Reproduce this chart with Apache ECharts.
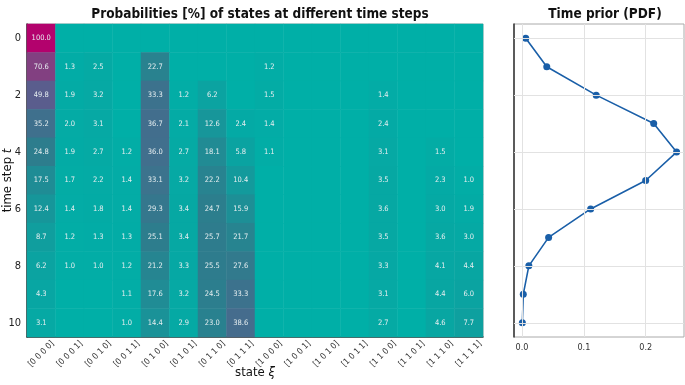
<!DOCTYPE html>
<html><head><meta charset="utf-8">
<script src="https://cdn.jsdelivr.net/npm/echarts@6/dist/echarts.min.js"></script>
<style>html,body{margin:0;padding:0;background:#fff}#c{width:685px;height:385px}</style>
</head><body><div id="c"></div>
<script>
const states = ['[0 0 0 0]','[0 0 0 1]','[0 0 1 0]','[0 0 1 1]','[0 1 0 0]','[0 1 0 1]','[0 1 1 0]','[0 1 1 1]',
                '[1 0 0 0]','[1 0 0 1]','[1 0 1 0]','[1 0 1 1]','[1 1 0 0]','[1 1 0 1]','[1 1 1 0]','[1 1 1 1]'];
const timeSteps = ['0','1','2','3','4','5','6','7','8','9','10'];
// probability [%] per time step (row) and state (column); blank cells (<1) set to 0
const probRows = [
  [100.0,0,0,0,0,0,0,0,0,0,0,0,0,0,0,0],
  [70.6,1.3,2.5,0,22.7,0,0,0,1.2,0,0,0,0,0,0,0],
  [49.8,1.9,3.2,0,33.3,1.2,6.2,0,1.5,0,0,0,1.4,0,0,0],
  [35.2,2.0,3.1,0,36.7,2.1,12.6,2.4,1.4,0,0,0,2.4,0,0,0],
  [24.8,1.9,2.7,1.2,36.0,2.7,18.1,5.8,1.1,0,0,0,3.1,0,1.5,0],
  [17.5,1.7,2.2,1.4,33.1,3.2,22.2,10.4,0,0,0,0,3.5,0,2.3,1.0],
  [12.4,1.4,1.8,1.4,29.3,3.4,24.7,15.9,0,0,0,0,3.6,0,3.0,1.9],
  [8.7,1.2,1.3,1.3,25.1,3.4,25.7,21.7,0,0,0,0,3.5,0,3.6,3.0],
  [6.2,1.0,1.0,1.2,21.2,3.3,25.5,27.6,0,0,0,0,3.3,0,4.1,4.4],
  [4.3,0,0,1.1,17.6,3.2,24.5,33.3,0,0,0,0,3.1,0,4.4,6.0],
  [3.1,0,0,1.0,14.4,2.9,23.0,38.6,0,0,0,0,2.7,0,4.6,7.7]
];
const priorPdf = [0.006,0.040,0.120,0.213,0.250,0.200,0.111,0.043,0.011,0.002,0.0005];
const priorTicks = [0, 0.1, 0.2];

const heatData = [];
probRows.forEach((row, t) => row.forEach((v, s) => heatData.push([s, t, v])));
const lineData = priorPdf.map((v, t) => [v, t]);

const FONT = "'Liberation Sans Narrow','DejaVu Sans Condensed','Liberation Sans',sans-serif";
const dark = '#333';
const chart = echarts.init(document.getElementById('c'), null, {renderer: 'canvas'});
chart.setOption({
  animation: false,
  textStyle: {fontFamily: FONT},
  title: [
    {text: 'Probabilities [%] of states at different time steps', left: 255, top: 2, textAlign: 'center',
     textStyle: {fontSize: 13.5, fontWeight: 'bold', color: '#111', fontFamily: FONT}},
    {text: 'Time prior (PDF)', left: 600, top: 2, textAlign: 'center',
     textStyle: {fontSize: 13.5, fontWeight: 'bold', color: '#111', fontFamily: FONT}}
  ],
  grid: [
    {left: 27, top: 24, width: 456, height: 313, show: true, borderColor: '#aaa', borderWidth: 1,
     backgroundColor: 'transparent', outerBoundsMode: 'none', containLabel: false},
    {left: 514, top: 24, width: 170, height: 313, show: true, borderColor: '#aaa', borderWidth: 1,
     backgroundColor: 'transparent', outerBoundsMode: 'none', containLabel: false}
  ],
  xAxis: [
    {type: 'category', gridIndex: 0, data: states, position: 'bottom',
     name: '{a|state }{i|ξ}', nameLocation: 'middle', nameGap: 29, nameMoveOverlap: false,
     nameTextStyle: {rich: {a: {fontSize: 13, color: '#111', fontFamily: FONT}, i: {fontSize: 13, fontStyle: 'italic', color: '#111', fontFamily: FONT}}},
     axisLine: {onZero: false, lineStyle: {color: dark, width: 1.5}},
     axisTick: {inside: true, alignWithLabel: true, length: 4, lineStyle: {color: dark}},
     axisLabel: {rotate: 45, fontSize: 8.5, color: '#333', margin: 17, interval: 0, align: 'center', verticalAlign: 'middle'},
     splitLine: {show: false}},
    {type: 'value', gridIndex: 1, min: -0.013, max: 0.262, position: 'bottom',
     axisLine: {onZero: false, lineStyle: {color: dark, width: 1.5}},
     axisTick: {inside: true, length: 4, customValues: priorTicks, lineStyle: {color: dark}},
     axisLabel: {fontSize: 9, color: '#333', margin: 6, customValues: priorTicks, formatter: v => v.toFixed(1)},
     splitLine: {show: false}}
  ],
  yAxis: [
    {type: 'category', gridIndex: 0, data: timeSteps, inverse: true,
     name: '{a|time step }{i|t}', nameLocation: 'middle', nameGap: 13, nameRotate: 90, nameMoveOverlap: false,
     nameTextStyle: {rich: {a: {fontSize: 13, color: '#111', fontFamily: FONT}, i: {fontSize: 13, fontStyle: 'italic', color: '#111', fontFamily: FONT}}},
     axisLine: {onZero: false, lineStyle: {color: dark, width: 1.5}},
     axisTick: {inside: true, alignWithLabel: true, length: 4, interval: 1, lineStyle: {color: dark}},
     axisLabel: {fontSize: 11, color: '#222', margin: 6, interval: 1},
     splitLine: {show: false}},
    {type: 'category', gridIndex: 1, data: timeSteps, inverse: true,
     axisLine: {onZero: false, lineStyle: {color: dark, width: 1.5}},
     axisTick: {inside: true, alignWithLabel: true, length: 4, interval: 1, lineStyle: {color: dark}},
     axisLabel: {show: false},
     splitLine: {show: false}}
  ],
  visualMap: {
    show: false, type: 'continuous', seriesIndex: 0, min: 0, max: 100, dimension: 2,
    inRange: {color: ['#00afa7', '#2d7d8d', '#5a5d8d', '#8a3a7e', '#b3026d']}
  },
  series: [
    {type: 'heatmap', xAxisIndex: 0, yAxisIndex: 0, data: heatData,
     label: {show: true, fontSize: 7.5, color: '#e6eef0', fontFamily: FONT,
             formatter: p => p.value[2] >= 1 ? p.value[2].toFixed(1) : ''},
     itemStyle: {borderWidth: 0}},
    {type: 'line', xAxisIndex: 1, yAxisIndex: 1, data: [], z: 1, silent: true,
     markLine: {silent: true, symbol: 'none', label: {show: false},
       lineStyle: {color: '#e2e2e2', width: 1, type: 'solid'},
       data: priorTicks.map(v => ({xAxis: v})).concat([0, 2, 4, 6, 8, 10].map(v => ({yAxis: v})))}},
    {type: 'line', xAxisIndex: 1, yAxisIndex: 1, data: lineData, z: 3,
     symbol: 'circle', symbolSize: 7, color: '#1a5fa8',
     lineStyle: {width: 1.6, color: '#1a5fa8'}, itemStyle: {color: '#1a5fa8'}}
  ]
});
</script></body></html>
